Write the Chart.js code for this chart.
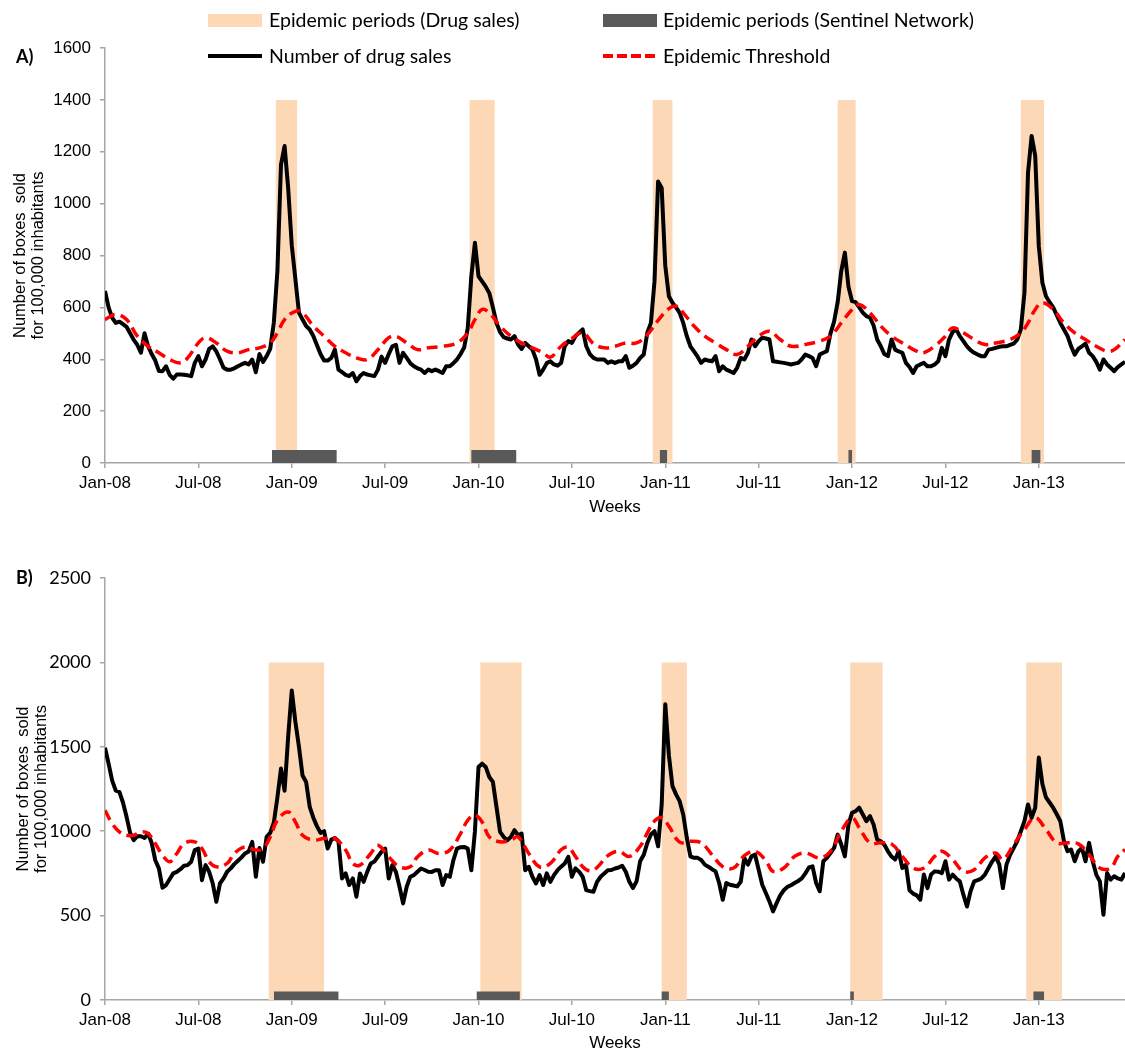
<!DOCTYPE html>
<html>
<head>
<meta charset="utf-8">
<title>Drug sales and epidemic thresholds</title>
<script src="https://cdn.jsdelivr.net/npm/chart.js@4.4.0/dist/chart.umd.min.js"></script>
<style>
  body { margin: 0; background: #fff; }
  #page { position: relative; width: 1125px; height: 1055px; overflow: hidden; }
  canvas { position: absolute; left: 0; }
  .txt { position: absolute; font-family: Lato, sans-serif; font-size: 19.5px; line-height: 22px; color: #000; white-space: nowrap; }
  .tag { position: absolute; font-family: Lato, sans-serif; font-weight: bold; font-size: 18px; line-height: 20px; color: #000; }
  .sw { position: absolute; width: 54px; }
</style>
</head>
<body>
<div id="page">
  <canvas id="chartA" width="1125" height="520" style="top:0"></canvas>
  <canvas id="chartB" width="1125" height="535" style="top:520px"></canvas>

  <div class="sw" style="left:208px;top:14px;height:13px;background:#fcd8b6"></div>
  <div class="txt" style="left:269px;top:9px">Epidemic periods (Drug sales)</div>
  <div class="sw" style="left:603px;top:14px;height:13px;background:#595959"></div>
  <div class="txt" style="left:663px;top:9px">Epidemic periods (Sentinel Network)</div>
  <div class="sw" style="left:208px;top:54px;height:4px;background:#000"></div>
  <div class="txt" style="left:269px;top:45px">Number of drug sales</div>
  <div class="sw" style="left:603px;top:54px;height:4px;background:repeating-linear-gradient(to right,#ff0000 0 10px,transparent 10px 14px)"></div>
  <div class="txt" style="left:663px;top:45px">Epidemic Threshold</div>

  <div class="tag" style="left:16px;top:46px">A)</div>
  <div class="tag" style="left:16px;top:567px">B)</div>
</div>
<script>
// x axis: week index from the first week of January 2008, labelled every 26 weeks
const weekTicks = ["Jan-08", "Jul-08", "Jan-09", "Jul-09", "Jan-10", "Jul-10",
                   "Jan-11", "Jul-11", "Jan-12", "Jul-12", "Jan-13"];

// epidemic periods as [first week, last week]
const periodsDrugA = [[47.5, 53.5], [101.5, 108.5], [152.5, 158], [204, 209], [255, 261.5]];
const periodsSentinelA = [[46.5, 64.5], [102, 114.5], [154.5, 156.5], [207, 208], [258, 260.5]];
const periodsDrugB = [[45.5, 61], [104.5, 116], [155, 162], [207.5, 216.5], [256.5, 266.5]];
const periodsSentinelB = [[47, 65], [103.5, 115.5], [155, 157], [207.5, 208.5], [258.5, 261.5]];

// weekly boxes sold per 100,000 inhabitants, [week, value]
const salesA = [[0,663],[1,600],[2,560],[3,540],[4,545],[5,535],[6,525],[7,500],[8,475],[9,455],[10,425],[11,500],[12,450],[13,420],[14,395],[15,355],[16,354],[17,373],[18,340],[19,325],[20,341],[21,341],[22,340],[23,338],[24,335],[25,386],[26,412],[27,373],[28,399],[29,440],[30,450],[31,430],[32,400],[33,367],[34,360],[35,360],[36,365],[37,373],[38,380],[39,386],[40,380],[41,399],[42,350],[43,420],[44,390],[45,412],[46,440],[47,540],[48,740],[49,1150],[50,1222],[51,1060],[52,840],[53,710],[54,580],[55,553],[56,528],[57,515],[58,490],[59,455],[60,420],[61,395],[62,395],[63,405],[64,437],[65,360],[66,350],[67,340],[68,335],[69,347],[70,315],[71,335],[72,347],[73,341],[74,338],[75,335],[76,360],[77,410],[78,386],[79,420],[80,450],[81,456],[82,386],[83,425],[84,405],[85,385],[86,373],[87,365],[88,360],[89,347],[90,360],[91,354],[92,360],[93,354],[94,347],[95,373],[96,373],[97,385],[98,399],[99,420],[100,445],[101,520],[102,720],[103,849],[104,720],[105,700],[106,680],[107,655],[108,600],[109,540],[110,505],[111,485],[112,480],[113,476],[114,489],[115,457],[116,440],[117,463],[118,450],[119,437],[120,400],[121,340],[122,360],[123,385],[124,392],[125,380],[126,375],[127,386],[128,450],[129,470],[130,463],[131,489],[132,502],[133,515],[134,450],[135,420],[136,405],[137,399],[138,399],[139,399],[140,386],[141,392],[142,386],[143,392],[144,392],[145,412],[146,367],[147,375],[148,386],[149,405],[150,418],[151,502],[152,540],[153,700],[154,1085],[155,1060],[156,760],[157,643],[158,618],[159,600],[160,579],[161,540],[162,489],[163,450],[164,430],[165,410],[166,386],[167,399],[168,395],[169,392],[170,412],[171,354],[172,373],[173,360],[174,354],[175,347],[176,367],[177,405],[178,399],[179,425],[180,476],[181,450],[182,470],[183,483],[184,480],[185,476],[186,392],[187,390],[188,388],[189,386],[190,383],[191,380],[192,383],[193,386],[194,400],[195,418],[196,412],[197,405],[198,373],[199,418],[200,425],[201,431],[202,500],[203,545],[204,620],[205,740],[206,811],[207,680],[208,624],[209,620],[210,600],[211,580],[212,566],[213,560],[214,530],[215,476],[216,450],[217,420],[218,412],[219,476],[220,437],[221,430],[222,425],[223,386],[224,370],[225,347],[226,373],[227,380],[228,386],[229,373],[230,373],[231,380],[232,392],[233,444],[234,412],[235,476],[236,505],[237,515],[238,489],[239,470],[240,450],[241,435],[242,425],[243,418],[244,412],[245,412],[246,437],[247,440],[248,444],[249,448],[250,450],[251,450],[252,455],[253,460],[254,476],[255,515],[256,656],[257,1120],[258,1261],[259,1184],[260,836],[261,695],[262,643],[263,620],[264,600],[265,570],[266,540],[267,515],[268,490],[269,450],[270,418],[271,440],[272,450],[273,460],[274,425],[275,412],[276,390],[277,360],[278,399],[279,380],[280,367],[281,354],[282,370],[283,380],[284,390]];

const thresholdA = [[0,553],[3,573],[6,553],[9,489],[12,450],[15,425],[18,399],[21,386],[23,405],[26,463],[28,483],[31,463],[34,431],[37,425],[40,437],[43,444],[46,463],[48,502],[50,553],[53,585],[55,579],[58,528],[61,489],[64,450],[67,425],[70,405],[73,399],[76,437],[79,483],[81,489],[84,463],[87,437],[90,444],[94,450],[98,463],[101,502],[103,553],[105,592],[107,579],[110,528],[113,489],[116,463],[119,444],[122,425],[124,408],[127,450],[130,480],[133,502],[136,460],[139,444],[142,450],[145,463],[148,463],[151,495],[154,550],[157,595],[159,605],[161,579],[164,528],[167,489],[170,463],[173,437],[176,418],[179,450],[182,489],[185,508],[188,476],[191,450],[195,457],[199,470],[202,489],[205,540],[208,592],[210,611],[213,579],[216,528],[219,489],[222,463],[226,431],[228,425],[231,450],[234,489],[236,521],[239,502],[242,476],[245,457],[248,463],[252,476],[255,502],[257,540],[259,592],[261,618],[264,592],[267,540],[270,502],[273,476],[276,450],[279,431],[281,437],[284,476]];

const salesB = [[0,1495],[1,1400],[2,1300],[3,1240],[4,1233],[5,1170],[6,1085],[7,990],[8,947],[9,970],[10,970],[11,960],[12,986],[13,930],[14,828],[15,780],[16,665],[17,681],[18,715],[19,750],[20,759],[21,775],[22,795],[23,799],[24,819],[25,888],[26,897],[27,710],[28,799],[29,760],[30,690],[31,582],[32,690],[33,720],[34,760],[35,780],[36,805],[37,825],[38,845],[39,868],[40,880],[41,937],[42,730],[43,900],[44,819],[45,966],[46,990],[47,1050],[48,1200],[49,1371],[50,1240],[51,1560],[52,1834],[53,1650],[54,1500],[55,1330],[56,1292],[57,1144],[58,1080],[59,1030],[60,990],[61,1000],[62,897],[63,950],[64,960],[65,940],[66,720],[67,750],[68,681],[69,720],[70,612],[71,750],[72,700],[73,759],[74,809],[75,820],[76,850],[77,878],[78,897],[79,720],[80,800],[81,759],[82,671],[83,572],[84,671],[85,730],[86,740],[87,760],[88,779],[89,770],[90,760],[91,759],[92,769],[93,769],[94,681],[95,740],[96,730],[97,828],[98,897],[99,905],[100,907],[101,897],[102,769],[103,1000],[104,1381],[105,1400],[106,1381],[107,1321],[108,1292],[109,1144],[110,996],[111,966],[112,947],[113,966],[114,1006],[115,976],[116,986],[117,769],[118,789],[119,730],[120,690],[121,740],[122,681],[123,750],[124,700],[125,740],[126,769],[127,790],[128,809],[129,848],[130,730],[131,780],[132,760],[133,730],[134,651],[135,645],[136,641],[137,700],[138,730],[139,750],[140,769],[141,770],[142,779],[143,785],[144,795],[145,760],[146,700],[147,663],[148,703],[149,822],[150,860],[151,930],[152,980],[153,1000],[154,911],[155,1158],[156,1752],[157,1450],[158,1267],[159,1218],[160,1178],[161,1099],[162,960],[163,851],[164,842],[165,842],[166,830],[167,802],[168,790],[169,775],[170,762],[171,693],[172,594],[173,693],[174,683],[175,678],[176,673],[177,700],[178,842],[179,802],[180,851],[181,861],[182,772],[183,683],[184,634],[185,584],[186,525],[187,574],[188,620],[189,650],[190,670],[191,680],[192,693],[193,705],[194,720],[195,750],[196,785],[197,792],[198,693],[199,644],[200,822],[201,842],[202,870],[203,901],[204,980],[205,921],[206,851],[207,1040],[208,1109],[209,1119],[210,1139],[211,1099],[212,1059],[213,1089],[214,1040],[215,950],[216,940],[217,920],[218,881],[219,850],[220,832],[221,881],[222,782],[223,802],[224,650],[225,630],[226,620],[227,594],[228,743],[229,663],[230,743],[231,762],[232,760],[233,752],[234,822],[235,713],[236,743],[237,720],[238,703],[239,624],[240,554],[241,644],[242,703],[243,710],[244,720],[245,743],[246,782],[247,820],[248,851],[249,802],[250,663],[251,802],[252,860],[253,900],[254,941],[255,1000],[256,1060],[257,1158],[258,1079],[259,1139],[260,1436],[261,1280],[262,1200],[263,1170],[264,1139],[265,1100],[266,1059],[267,941],[268,881],[269,891],[270,822],[271,880],[272,901],[273,822],[274,931],[275,822],[276,743],[277,703],[278,505],[279,752],[280,713],[281,733],[282,720],[283,713],[284,752]];

const thresholdB = [[0,1124],[2,1045],[4,996],[6,976],[8,976],[10,996],[12,986],[14,927],[16,858],[18,819],[20,868],[22,927],[25,937],[27,897],[29,819],[31,789],[34,809],[36,868],[39,907],[42,888],[44,897],[46,966],[48,1065],[51,1114],[53,1055],[55,976],[58,947],[61,957],[64,957],[67,888],[69,809],[71,799],[74,868],[76,917],[79,848],[82,789],[85,789],[87,848],[90,888],[93,868],[96,888],[99,986],[101,1065],[103,1095],[105,1055],[107,966],[110,937],[113,947],[115,966],[118,868],[121,789],[124,809],[127,890],[129,905],[131,850],[133,790],[135,765],[137,785],[140,855],[143,881],[146,851],[149,911],[151,990],[153,1060],[155,1080],[157,1030],[160,935],[163,941],[166,931],[169,861],[172,790],[175,782],[178,855],[181,881],[184,825],[186,762],[189,782],[192,851],[195,871],[199,842],[202,881],[205,1000],[208,1079],[210,1020],[213,931],[216,931],[219,925],[222,851],[225,782],[228,782],[231,851],[233,881],[236,832],[239,762],[242,772],[245,842],[248,871],[250,832],[253,921],[256,1010],[259,1079],[262,1010],[265,931],[268,931],[271,925],[274,861],[277,782],[280,782],[282,851],[284,891]];

const PEACH = "#fcd8b6";
const DARK = "#595959";
const AXIS = "#a6a6a6";

function toPoints(pairs) {
  return pairs.map(([x, y]) => ({ x, y }));
}

// rectangles for each period, filled down to the x axis
function bandPoints(periods, height) {
  const pts = [];
  periods.forEach(([s, e]) => {
    pts.push({ x: s, y: 0 }, { x: s, y: height }, { x: e, y: height }, { x: e, y: 0 });
  });
  return pts;
}

function band(periods, height, color, order) {
  return {
    data: bandPoints(periods, height),
    borderWidth: 0,
    backgroundColor: color,
    fill: "origin",
    pointRadius: 0,
    tension: 0,
    order: order,
  };
}

function makeChart(id, p) {
  const arial = { family: "'Liberation Sans', Arial, sans-serif", size: 17 };
  return new Chart(document.getElementById(id), {
    type: "line",
    data: {
      datasets: [
        band(p.drug, p.drugTop, PEACH, 3),
        band(p.sentinel, 50, DARK, 2),
        {
          data: toPoints(p.sales),
          borderColor: "#000",
          borderWidth: 4,
          borderJoinStyle: "round",
          pointRadius: 0,
          tension: 0,
          fill: false,
          order: 1,
        },
        {
          data: toPoints(p.threshold),
          borderColor: "#ff0000",
          borderWidth: 3.5,
          borderDash: [11, 6],
          pointRadius: 0,
          tension: 0.4,
          fill: false,
          order: 0,
        },
      ],
    },
    options: {
      responsive: false,
      animation: false,
      events: [],
      layout: { padding: { top: p.padTop, right: 0, bottom: 0, left: 0 } },
      plugins: { legend: { display: false }, tooltip: { enabled: false } },
      scales: {
        x: {
          type: "linear",
          min: 0,
          max: 284,
          afterBuildTicks: (s) => {
            s.ticks = weekTicks.map((_, i) => ({ value: i * 26 }));
          },
          afterFit: (s) => { s.height = p.xHeight; },
          ticks: {
            callback: (v) => weekTicks[v / 26],
            autoSkip: false,
            maxRotation: 0,
            padding: p.xPad,
            color: "#000",
            font: arial,
          },
          grid: { drawOnChartArea: false, tickLength: 5, color: AXIS, lineWidth: 1.5 },
          border: { color: AXIS, width: 1.5 },
          title: {
            display: true,
            text: "Weeks",
            color: "#000",
            font: arial,
            padding: { top: 0, bottom: p.weeksPad },
          },
        },
        y: {
          min: 0,
          max: p.yMax,
          afterFit: (s) => { s.width = 105; },
          ticks: {
            stepSize: p.yStep,
            padding: 9,
            color: "#000",
            font: p.yFont,
            callback: (v) => String(v),
          },
          grid: { drawOnChartArea: false, tickLength: 5, color: AXIS, lineWidth: 1.5 },
          border: { color: AXIS, width: 1.5 },
          title: {
            display: true,
            text: ["Number of boxes  sold", "for 100,000 inhabitants"],
            color: "#000",
            font: { family: "'Liberation Sans', Arial, sans-serif", size: 16.5, lineHeight: 1.1 },
            padding: { top: p.titlePad, bottom: 0 },
          },
        },
      },
    },
  });
}

makeChart("chartA", {
  drug: periodsDrugA, sentinel: periodsSentinelA, drugTop: 1400,
  sales: salesA, threshold: thresholdA,
  yMax: 1600, yStep: 200,
  yFont: { family: "'Liberation Sans', Arial, sans-serif", size: 17 },
  padTop: 48, xHeight: 57, xPad: 5, weeksPad: 2, titlePad: 11,
});

makeChart("chartB", {
  drug: periodsDrugB, sentinel: periodsSentinelB, drugTop: 2000,
  sales: salesB, threshold: thresholdB,
  yMax: 2500, yStep: 500,
  yFont: { family: "Lato, sans-serif", size: 18 },
  padTop: 58, xHeight: 55, xPad: 5, weeksPad: 1, titlePad: 14,
});
</script>
</body>
</html>
